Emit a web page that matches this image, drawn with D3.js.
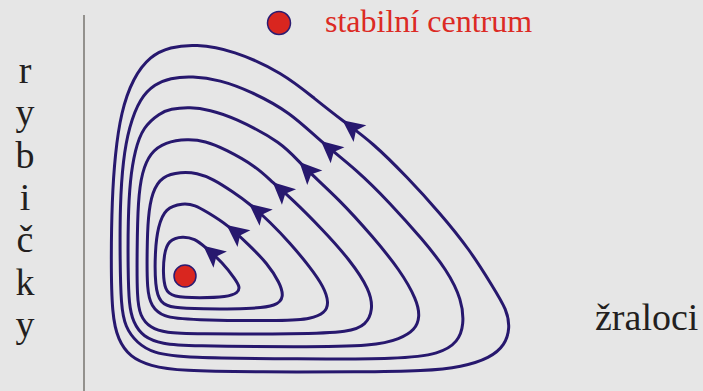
<html><head>
<script src="https://cdnjs.cloudflare.com/ajax/libs/d3/7.8.5/d3.min.js"></script>
<style>
  body { margin: 0; background: #e6e6e6; }
  svg { display: block; }
  .orbit { fill: none; stroke: #27186e; stroke-width: 3; }
  .lbl { font-family: "Liberation Serif", "Times New Roman", serif; fill: #231f20; }
</style>
</head>
<body>
<svg id="chart" width="703" height="391"></svg>
<script>
// orbits of the predator-prey system, innermost first (x = sharks, y = fish)
const orbit1 = [[99,155],[84,151],[80,136],[79,118],[81,101],[88,94],[116,93],[143,94],[154,98],[156,104],[151,112],[139,128],[120,145],[111,152]];
const orbit2 = [[99,188],[81,183],[74,164],[71,141],[71,104],[76,88],[89,83],[116,82],[166,82],[193,85],[200,94],[196,108],[183,128],[166,145],[144,166],[123,179],[111,186]];
const orbit3 = [[97,219],[78,215],[68,199],[64,174],[63,141],[63,101],[67,85],[79,74],[103,71],[206,70],[226,72],[241,78],[245,88],[240,104],[226,124],[206,148],[186,169],[166,187],[149,199],[129,212],[113,218]];
const orbit4 = [[104,252],[81,249],[66,238],[58,219],[54,191],[53,141],[53,93],[56,75],[66,63],[83,58],[106,57],[216,57],[266,59],[282,66],[289,81],[286,101],[266,131],[239,161],[206,194],[189,208],[173,224],[141,242],[121,250]];
const orbit5 = [[106,284],[86,282],[76,278],[59,264],[51,241],[46,211],[44,171],[44,121],[45,86],[49,69],[59,54],[79,47],[103,45],[216,44],[291,45],[316,52],[331,61],[336,74],[333,91],[316,121],[289,154],[256,191],[217,226],[199,248],[149,274],[126,281]];
const orbit6 = [[108,315],[86,313],[71,307],[56,293],[45,264],[39,231],[36,186],[36,131],[37,86],[41,64],[53,48],[69,38],[99,33],[216,32],[316,32],[356,37],[374,49],[380,66],[378,91],[363,121],[339,151],[306,188],[273,221],[237,249],[206,279],[166,300],[136,311]];
const orbit7 = [[111,347],[86,344],[66,335],[49,313],[37,279],[31,236],[28,191],[27,131],[28,76],[34,51],[46,34],[66,25],[96,20],[176,19],[276,19],[341,20],[378,24],[406,33],[421,46],[426,63],[423,81],[409,104],[386,141],[356,178],[323,214],[289,248],[259,270],[231,292],[199,318],[149,341]];
const orbits = [orbit1, orbit2, orbit3, orbit4, orbit5, orbit6, orbit7];

// arrow heads, one per orbit (tip positions)
const arrowTips = [[120,145],[144,166],[166,187],[189,208],[215,227],[237,249],[259,270]];

const centre = [101, 115];
const yLetters = ["r", "y", "b", "i", "č", "k", "y"];
const xLabel = "žraloci";
const legendText = "stabilní centrum";

let svg = d3.select("#chart");
const x = d3.scaleLinear().domain([0, 619]).range([84, 703]);
const y = d3.scaleLinear().domain([0, 391]).range([391, 0]);

svg.append("rect").attr("width", 703).attr("height", 391).attr("fill", "#e6e6e6");

// vertical axis
svg.append("line")
  .attr("x1", x(0)).attr("x2", x(0))
  .attr("y1", 15).attr("y2", 391)
  .attr("stroke", "#77746f").attr("stroke-width", 1.5);

// y label, letters stacked
svg.selectAll(".ylet").data(yLetters).enter().append("text")
  .attr("class", "lbl")
  .attr("x", 25)
  .attr("y", (d, i) => 83 + i * 42.3)
  .attr("text-anchor", "middle")
  .style("font-size", "38px")
  .text(d => d);

svg.append("text").attr("class", "lbl")
  .attr("x", 595).attr("y", 330)
  .style("font-size", "38px")
  .text(xLabel);

let line = d3.line()
  .x(d => x(d[0]))
  .y(d => y(d[1]))
  .curve(d3.curveBasisClosed);

let paths = svg.selectAll(".orbit").data(orbits).enter().append("path")
  .attr("class", "orbit")
  .attr("d", line);

// arrow heads aligned with the orbit direction
paths.each(function(d, i) {
  let node = this;
  let total = node.getTotalLength();
  let tx = x(arrowTips[i][0]), ty = y(arrowTips[i][1]);
  let best = 0, bestD = Infinity;
  for (let l = 0; l < total; l += 0.5) {
    let p = node.getPointAtLength(l);
    let dd = (p.x - tx) * (p.x - tx) + (p.y - ty) * (p.y - ty);
    if (dd < bestD) { bestD = dd; best = l; }
  }
  let p0 = node.getPointAtLength(Math.max(0, best - 5));
  let p1 = node.getPointAtLength(Math.min(total, best + 5));
  let ang = Math.atan2(p1.y - p0.y, p1.x - p0.x) * 180 / Math.PI;
  let p = node.getPointAtLength(best);
  svg.append("path")
    .attr("d", "M1,0 L-21,-10.5 L-16,0 L-21,10.5 Z")
    .attr("fill", "#27186e")
    .attr("transform", "translate(" + p.x + "," + p.y + ") rotate(" + ang + ")");
});

// centre point
svg.append("circle")
  .attr("cx", x(centre[0])).attr("cy", y(centre[1]))
  .attr("r", 11)
  .attr("fill", "#d9261f").attr("stroke", "#2b1c72").attr("stroke-width", 1.5);

// legend
svg.append("circle")
  .attr("cx", 279).attr("cy", 23).attr("r", 11.5)
  .attr("fill", "#d9261f").attr("stroke", "#2b1c72").attr("stroke-width", 1.5);
svg.append("text").attr("class", "lbl")
  .attr("x", 325).attr("y", 32)
  .style("font-size", "32px").style("fill", "#dc2a24")
  .text(legendText);
</script>
</body>
</html>
